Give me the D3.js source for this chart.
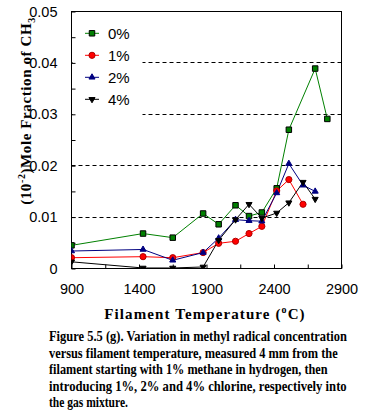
<!DOCTYPE html>
<html>
<head>
<meta charset="utf-8">
<script src="https://cdn.jsdelivr.net/npm/d3@7"></script>
<style>
  body { margin: 0; background: #fff; }
  svg { display: block; }
  .serif { font-family: "Liberation Serif", "Times New Roman", serif; font-weight: bold; }
  .sans { font-family: "Liberation Sans", Arial, sans-serif; }
</style>
</head>
<body>
<div class="chart"></div>
<script>
// data
const tempsGreen = [900, 1430, 1650, 1875, 1990, 2115, 2215, 2310, 2420, 2510, 2705, 2795];
const valsGreen = [0.0045, 0.0068, 0.0060, 0.0107, 0.0086, 0.0123, 0.0102, 0.0109, 0.0156, 0.0270, 0.0389, 0.0291];

const tempsRed = [900, 1430, 1650, 1875, 1990, 2115, 2215, 2310, 2420, 2510, 2615];
const valsRed = [0.0021, 0.0023, 0.0021, 0.0031, 0.0049, 0.0053, 0.0068, 0.0082, 0.0151, 0.0173, 0.0125];

const tempsBlue = [900, 1430, 1650, 1875, 1990, 2115, 2215, 2310, 2420, 2510, 2615, 2705];
const valsBlue = [0.0034, 0.0037, 0.0016, 0.0031, 0.0059, 0.0095, 0.0093, 0.0092, 0.0147, 0.0204, 0.0162, 0.0150];

const tempsBlack = [900, 1430, 1650, 1875, 1990, 2115, 2215, 2310, 2420, 2510, 2615, 2705];
const valsBlack = [0.0013, 0.0001, 0.0001, 0.0003, 0.0055, 0.0095, 0.0125, 0.0098, 0.0108, 0.0128, 0.0168, 0.0135];

const seriesNames = ["0%", "1%", "2%", "4%"];
const xTicks = [900, 1150, 1400, 1650, 1900, 2150, 2400, 2650, 2900];
const yTicks = [0, 0.005, 0.01, 0.015, 0.02, 0.025, 0.03, 0.035, 0.04, 0.045, 0.05];
const gridValues = [0.01, 0.02, 0.03, 0.04];

const captionLines = [
  "Figure 5.5 (g). Variation in methyl radical concentration",
  "versus filament temperature, measured 4  mm from the",
  "filament starting with 1% methane in hydrogen, then",
  "introducing 1%, 2% and 4% chlorine,  respectively into",
  "the gas mixture."
];
const captionWidths = [298, 289, 279, 298, 79];

// margins / size
const margin = ({top: 11.5, left: 71.5});
const width = 270;
const height = 257;

const svgRoot = d3.select(".chart")
  .append("svg")
  .attr("width", 374)
  .attr("height", 410);

const svg = svgRoot.append("g")
  .attr("transform", `translate(${margin.left},${margin.top})`);

const xScale = d3.scaleLinear().domain([900, 2900]).range([0, width]);
const yScale = d3.scaleLinear().domain([0, 0.05]).range([height, 0]);

svg.append("clipPath").attr("id", "plot-clip")
  .append("rect").attr("width", width).attr("height", height);

// dashed gridlines
svg.append("g")
  .selectAll("line")
  .data(gridValues)
  .enter()
  .append("line")
  .attr("x1", 0)
  .attr("x2", width)
  .attr("y1", d => Math.round(yScale(d)))
  .attr("y2", d => Math.round(yScale(d)))
  .attr("stroke", "black")
  .attr("stroke-dasharray", "4,3");

// white box behind the legend
svg.append("rect")
  .attr("x", 1)
  .attr("y", 1)
  .attr("width", 70)
  .attr("height", 110)
  .attr("fill", "white");

// axes
const xAxis = d3.axisBottom(xScale)
  .tickValues(xTicks)
  .tickSize(-4)
  .tickPadding(15)
  .tickFormat(d => (d - 900) % 500 === 0 ? d : "");

const yAxis = d3.axisLeft(yScale)
  .tickValues(yTicks)
  .tickSize(-4)
  .tickPadding(14)
  .tickFormat(d => {
    const k = Math.round(d * 1000);
    if (k % 10 !== 0) return "";
    return k === 0 ? "0" : d3.format(".2f")(d);
  });

svg.append("g")
  .attr("transform", `translate(0,${height})`)
  .call(xAxis)
  .call(g => g.select(".domain").remove())
  .call(g => g.selectAll("text")
    .attr("class", "sans")
    .attr("font-size", 14.5)
    .attr("fill", "black"));

svg.append("g")
  .call(yAxis)
  .call(g => g.select(".domain").remove())
  .call(g => g.selectAll("text")
    .attr("class", "sans")
    .attr("font-size", 14.5)
    .attr("fill", "black"));

// frame
svg.append("rect")
  .attr("width", width)
  .attr("height", height)
  .attr("fill", "none")
  .attr("stroke", "black");

// series
const series = [
  {name: seriesNames[0], temps: tempsGreen, vals: valsGreen, color: "#008000", fill: "#008000", stroke: "black", symbol: d3.symbolSquare, size: 30, rotate: 0},
  {name: seriesNames[1], temps: tempsRed, vals: valsRed, color: "#ff0000", fill: "#ff0000", stroke: "#b00000", symbol: d3.symbolCircle, size: 30, rotate: 0},
  {name: seriesNames[2], temps: tempsBlue, vals: valsBlue, color: "#000080", fill: "#000080", stroke: "#000080", symbol: d3.symbolTriangle, size: 16, rotate: 0},
  {name: seriesNames[3], temps: tempsBlack, vals: valsBlack, color: "black", fill: "black", stroke: "black", symbol: d3.symbolTriangle, size: 16, rotate: 180}
];

const line = d3.line()
  .x(d => xScale(d[0]))
  .y(d => yScale(d[1]));

const plot = svg.append("g").attr("clip-path", "url(#plot-clip)");

series.forEach(s => {
  const pts = s.temps.map((t, i) => [t, s.vals[i]]);
  plot.append("path")
    .datum(pts)
    .attr("fill", "none")
    .attr("stroke", s.color)
    .attr("stroke-width", 1)
    .attr("d", line);
});

series.forEach(s => {
  const pts = s.temps.map((t, i) => [t, s.vals[i]]);
  plot.selectAll(null)
    .data(pts)
    .enter()
    .append("path")
    .attr("d", d3.symbol().type(s.symbol).size(s.size))
    .attr("transform", d => `translate(${xScale(d[0])},${yScale(d[1])}) rotate(${s.rotate})`)
    .attr("fill", s.fill)
    .attr("stroke", s.stroke)
    .attr("stroke-width", 1);
});

// legend
const legend = svg.append("g")
  .selectAll("g")
  .data(series)
  .enter()
  .append("g")
  .attr("transform", (d, i) => `translate(20.5,${21.8 + i * 22})`);

legend.append("line")
  .attr("x1", -7)
  .attr("x2", 7)
  .attr("stroke", d => d.color);

legend.append("path")
  .attr("d", d => d3.symbol().type(d.symbol).size(d.size)())
  .attr("transform", d => `rotate(${d.rotate})`)
  .attr("fill", d => d.fill)
  .attr("stroke", d => d.stroke);

legend.append("text")
  .text(d => d.name)
  .attr("class", "sans")
  .attr("x", 16)
  .attr("dy", "0.36em")
  .attr("font-size", 15);

// x title
const xTitle = svgRoot.append("text")
  .attr("class", "serif")
  .attr("x", 205)
  .attr("y", 318.5)
  .attr("text-anchor", "middle")
  .attr("font-size", 15)
  .attr("letter-spacing", 1.1);
xTitle.append("tspan").text("Filament Temperature (");
xTitle.append("tspan").attr("font-size", 10).attr("dy", -6).text("o");
xTitle.append("tspan").attr("dy", 6).text("C)");

// y title
const yTitle = svgRoot.append("text")
  .attr("class", "serif")
  .attr("transform", "translate(31,111) rotate(-90)")
  .attr("text-anchor", "middle")
  .attr("font-size", 15)
  .attr("letter-spacing", 0.6);
yTitle.append("tspan").text("(10");
yTitle.append("tspan").attr("font-size", 10).attr("dy", -6).text("-2");
yTitle.append("tspan").attr("dy", 6).text(")Mole Fraction of CH");
yTitle.append("tspan").attr("font-size", 10).attr("dy", 4).text("3");

// caption, squeezed horizontally to the widths in the figure
svgRoot.append("g")
  .selectAll("text")
  .data(captionLines)
  .enter()
  .append("text")
  .attr("class", "serif")
  .attr("font-size", 14.5)
  .text(d => d)
  .attr("transform", function(d, i) {
    const w = this.getComputedTextLength();
    return `translate(49,${341 + i * 16.6}) scale(${captionWidths[i] / w},1)`;
  });
</script>
</body>
</html>
